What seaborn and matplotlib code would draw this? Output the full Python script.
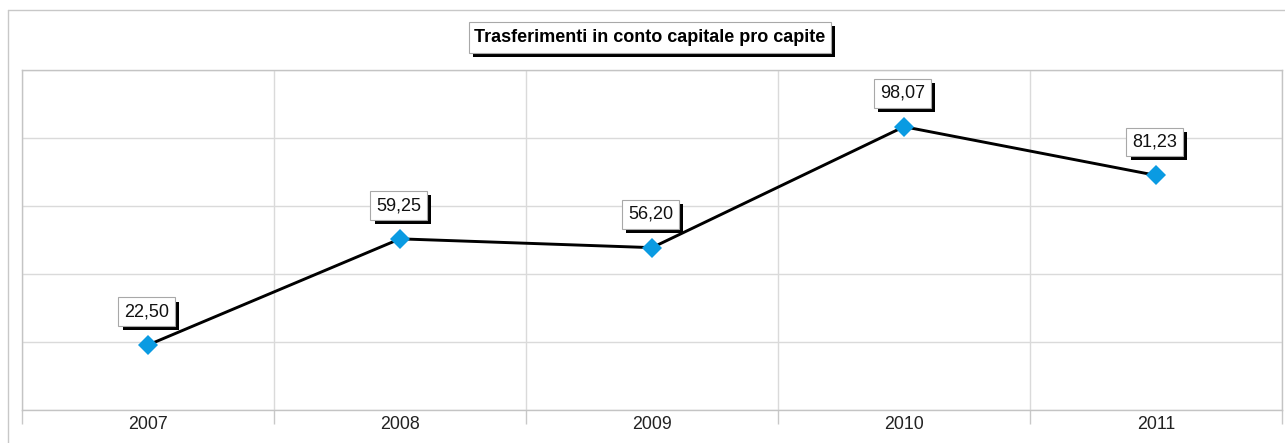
import numpy as np
import pandas as pd
import seaborn as sns
import matplotlib.pyplot as plt
from matplotlib import patheffects as pe
from matplotlib.lines import Line2D
from matplotlib.patches import Rectangle

# ---- data ----
anni = ['2007', '2008', '2009', '2010', '2011']
valori = [22.50, 59.25, 56.20, 98.07, 81.23]
titolo = 'Trasferimenti in conto capitale pro capite'

sns.set_theme(style='white')
plt.rcParams['font.family'] = ['Liberation Sans', 'DejaVu Sans']

W, H = 1285, 443
fig = plt.figure(figsize=(W / 100, H / 100), dpi=100)
fig.patch.set_facecolor('white')
ax = fig.add_axes([22 / W, 33 / H, 1260 / W, 340 / H])

df = pd.DataFrame({'pos': np.arange(len(anni)), 'valore': valori})
sns.lineplot(data=df, x='pos', y='valore', ax=ax, color='black', lw=2.1,
             marker='D', markersize=10.5, markerfacecolor='#0A9BE2',
             markeredgewidth=0, zorder=3)

y_top = 117.7
ax.set_xlim(-0.5, len(anni) - 0.5)
ax.set_ylim(0, y_top)
ax.set_yticks(np.linspace(0, y_top, 6))
ax.set_yticklabels([])
ax.set_xticks(np.arange(len(anni) + 1) - 0.5)
ax.set_xticklabels([])
ax.set_xticks(np.arange(len(anni)), minor=True)
ax.set_xticklabels(anni, minor=True)
ax.tick_params(axis='x', which='major', bottom=True, length=10, width=1,
               color='#c8c8c8', direction='out')
ax.tick_params(axis='x', which='minor', bottom=True, length=0, labelsize=12.8,
               labelcolor='#222222', pad=4)
ax.tick_params(axis='y', length=0)
ax.grid(True, which='major', color='#dadada', lw=1)
ax.set_xlabel('')
ax.set_ylabel('')
for s in ax.spines.values():
    s.set_color('#c4c4c4')
    s.set_linewidth(1)

shadow = [pe.SimplePatchShadow(offset=(3, -3), shadow_rgbFace='black', alpha=1), pe.Normal()]

for i, v in enumerate(valori):
    t = ax.annotate(f"{v:.2f}".replace('.', ','), (i, v), xytext=(-1, 24),
                    textcoords='offset points', ha='center', va='center',
                    fontsize=13, color='#111111', zorder=5,
                    bbox=dict(boxstyle='square,pad=0.32', fc='white', ec='#a8a8a8', lw=0.8))
    t.get_bbox_patch().set_path_effects(shadow)

title_box = Rectangle((469 / W, 1 - 53 / H), 362 / W, 31 / H, transform=fig.transFigure,
                      fc='white', ec='#a8a8a8', lw=0.8, path_effects=shadow)
fig.add_artist(title_box)
fig.text(650 / W, 1 - 37.5 / H, titolo, ha='center', va='center',
         fontsize=13, fontweight='bold', color='black')

fig.add_artist(Line2D([8 / W, 8 / W], [0, 1 - 10 / H], transform=fig.transFigure,
                      color='#c8c8c8', lw=1))
fig.add_artist(Line2D([8 / W, 1], [1 - 10 / H, 1 - 10 / H], transform=fig.transFigure,
                      color='#c8c8c8', lw=1))

fig.savefig('out.png', dpi=100)
